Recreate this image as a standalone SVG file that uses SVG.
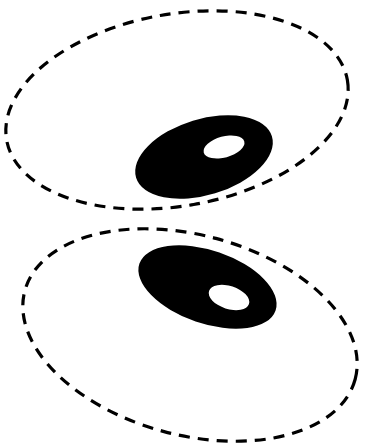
<svg xmlns="http://www.w3.org/2000/svg" width="368" height="445" viewBox="0 0 368 445">
<style>
.outline{fill:none;stroke:#000;stroke-width:3.2;stroke-dasharray:11 8}
.body{fill:#000}
.hole{fill:#fff}
</style>
<rect width="368" height="445" fill="#fff"/>
<g id="top">
<ellipse class="outline" cx="177" cy="110" rx="173" ry="96" transform="rotate(-10 177 110)"/>
<ellipse class="body" cx="204" cy="157" rx="71" ry="38" transform="rotate(-17 204 157)"/>
<ellipse class="hole" cx="224" cy="147" rx="21" ry="10.5" transform="rotate(-15 224 147)"/>
</g>
<g id="bottom">
<ellipse class="outline" cx="190" cy="335" rx="171" ry="100" transform="rotate(15 190 335)"/>
<ellipse class="body" cx="207.5" cy="287" rx="72" ry="36.5" transform="rotate(19 207.5 287)"/>
<ellipse class="hole" cx="229" cy="297.5" rx="21" ry="11.5" transform="rotate(18 229 297.5)"/>
</g>
</svg>
